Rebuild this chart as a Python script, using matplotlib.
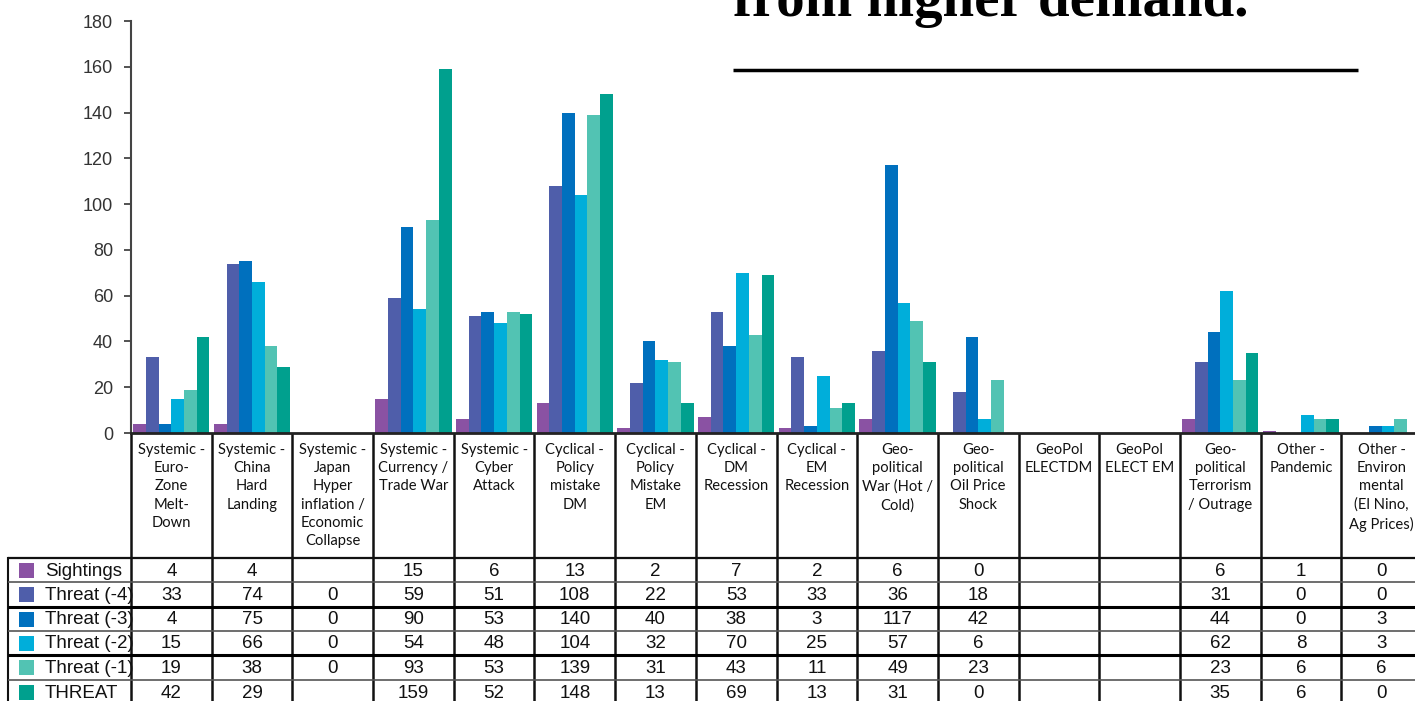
import matplotlib
matplotlib.use('Agg')
import matplotlib.pyplot as plt
from matplotlib.patches import Rectangle

# categories (header labels as printed, with line breaks)
categories = [
    'Systemic -\nEuro-\nZone\nMelt-\nDown',
    'Systemic -\nChina\nHard\nLanding',
    'Systemic -\nJapan\nHyper\ninflation /\nEconomic\nCollapse',
    'Systemic -\nCurrency /\nTrade War',
    'Systemic -\nCyber\nAttack',
    'Cyclical -\nPolicy\nmistake\nDM',
    'Cyclical -\nPolicy\nMistake\nEM',
    'Cyclical -\nDM\nRecession',
    'Cyclical -\nEM\nRecession',
    'Geo-\npolitical\nWar (Hot /\nCold)',
    'Geo-\npolitical\nOil Price\nShock',
    'GeoPol\nELECTDM',
    'GeoPol\nELECT EM',
    'Geo-\npolitical\nTerrorism\n/ Outrage',
    'Other -\nPandemic',
    'Other -\nEnviron\nmental\n(El Nino,\nAg Prices)',
]

# series values (None = blank cell in the table)
sightings = [4, 4, None, 15, 6, 13, 2, 7, 2, 6, 0, None, None, 6, 1, 0]
threat_m4 = [33, 74, 0, 59, 51, 108, 22, 53, 33, 36, 18, None, None, 31, 0, 0]
threat_m3 = [4, 75, 0, 90, 53, 140, 40, 38, 3, 117, 42, None, None, 44, 0, 3]
threat_m2 = [15, 66, 0, 54, 48, 104, 32, 70, 25, 57, 6, None, None, 62, 8, 3]
threat_m1 = [19, 38, 0, 93, 53, 139, 31, 43, 11, 49, 23, None, None, 23, 6, 6]
threat = [42, 29, None, 159, 52, 148, 13, 69, 13, 31, 0, None, None, 35, 6, 0]

series_names = ['Sightings', 'Threat (-4)', 'Threat (-3)', 'Threat (-2)', 'Threat (-1)', 'THREAT']
series_values = [sightings, threat_m4, threat_m3, threat_m2, threat_m1, threat]
series_colors = ['#8A52A3', '#4F5EAA', '#0070BE', '#00AEDA', '#52C3B3', '#00A08E']

y_ticks = [0, 20, 40, 60, 80, 100, 120, 140, 160, 180]

W, H = 1415, 701
fig = plt.figure(figsize=(W / 100, H / 100), dpi=100, facecolor='white')

# pixel layout
x_left, x_right = 131, 1422
y_top, y_zero = 21, 433
n = len(categories)
col_w = (x_right - x_left) / n

# bar chart
ax = fig.add_axes([x_left / W, (H - y_zero) / H, (x_right - x_left) / W, (y_zero - y_top) / H])
group_w = 0.945
bar_w = group_w / len(series_values)
for k, (vals, color) in enumerate(zip(series_values, series_colors)):
    xs = [i - group_w / 2 + bar_w * (k + 0.5) for i in range(n)]
    hs = [v if v is not None else 0 for v in vals]
    ax.bar(xs, hs, width=bar_w, color=color, linewidth=0, zorder=2)

ax.set_xlim(-0.5, n - 0.5)
ax.set_ylim(0, 180)
ax.set_yticks(y_ticks)
ax.set_yticklabels([str(t) for t in y_ticks], fontsize=13, color='#333333', family='Liberation Sans')
ax.set_xticks([])
ax.tick_params(axis='y', length=5, width=1.3, color='#444444', pad=8)
for s in ['top', 'right']:
    ax.spines[s].set_visible(False)
ax.spines['left'].set_color('#444444')
ax.spines['left'].set_linewidth(1.5)
ax.spines['bottom'].set_color('#222222')
ax.spines['bottom'].set_linewidth(2)
ax.patch.set_alpha(0)

# table drawn in pixel coordinates on an overlay axes
tax = fig.add_axes([0, 0, 1, 1], zorder=-1)
tax.set_xlim(0, W)
tax.set_ylim(H, 0)
tax.axis('off')

row_edges = [558, 582, 607, 631, 655, 680, 704]
row_lw = [1.6, 1.2, 2.2, 1.2, 2.2, 1.2, 1.2]
row_col = ['#111111', '#555555', '#000000', '#555555', '#000000', '#555555', '#555555']
label_left = 8

# vertical lines
for i in range(n + 1):
    x = x_left + i * col_w
    tax.plot([x, x], [y_zero, 704], color='#111111', lw=1.8, solid_capstyle='butt')
tax.plot([label_left, label_left], [row_edges[0], 704], color='#111111', lw=1.5)

# horizontal lines
for y, lw, c in zip(row_edges, row_lw, row_col):
    tax.plot([label_left, x_right], [y, y], color=c, lw=lw, solid_capstyle='butt')

# header labels
for i, lab in enumerate(categories):
    cx = x_left + (i + 0.5) * col_w
    tax.text(cx, 443, lab, ha='center', va='top', fontsize=10.6, family='Lato',
             linespacing=1.38, color='#111111')

# rows: legend swatch, name, values
for r, (name, vals, color) in enumerate(zip(series_names, series_values, series_colors)):
    y0, y1 = row_edges[r], row_edges[r + 1]
    cy = (y0 + y1) / 2
    tax.add_patch(Rectangle((19, cy - 7.5), 15, 15, color=color, lw=0))
    tax.text(45, cy + 1, name, ha='left', va='center', fontsize=13.5,
             family='Liberation Sans', color='#111111')
    for i, v in enumerate(vals):
        if v is None:
            continue
        cx = x_left + (i + 0.5) * col_w
        tax.text(cx, cy + 1, str(v), ha='center', va='center', fontsize=13.5,
                 family='Liberation Sans', color='#111111')

# headline fragment at top right
tax.text(733, 16, 'from higher demand.', ha='left', va='baseline', fontsize=41,
         fontweight='bold', family='Liberation Serif', color='black')
tax.plot([733, 1358], [70, 70], color='black', lw=2.5, solid_capstyle='butt')

fig.savefig('out.png', dpi=100, facecolor='white')
